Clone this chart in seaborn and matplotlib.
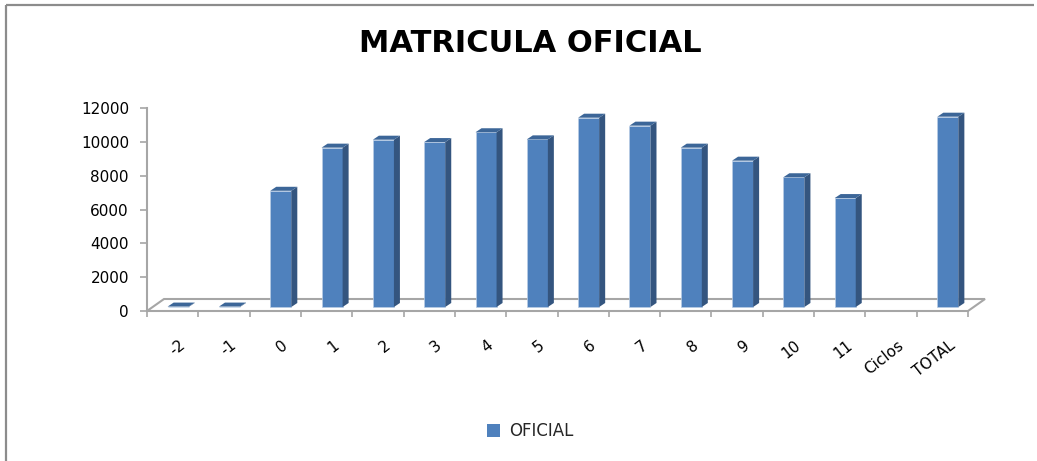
import numpy as np
import pandas as pd
import matplotlib
matplotlib.use('Agg')
import matplotlib.pyplot as plt
import seaborn as sns
from matplotlib.patches import Polygon, Patch
from matplotlib.lines import Line2D
import matplotlib.transforms as mtrans

# ---- data ----
categories = ['-2', '-1', '0', '1', '2', '3', '4', '5', '6', '7', '8', '9',
              '10', '11', 'Ciclos', 'TOTAL']
matricula = [25, 25, 6870, 9420, 9890, 9750, 10330, 9910, 11190, 10720,
             9420, 8650, 7670, 6440, np.nan, 11250]
series_name = 'OFICIAL'
title = 'MATRICULA OFICIAL'
y_ticks = [0, 2000, 4000, 6000, 8000, 10000, 12000]

# ---- style ----
sns.set_theme(style='white')
plt.rcParams['font.family'] = ['DejaVu Sans']

FRONT = '#4f81bd'
SIDE = '#34557f'
TOP = '#3c6698'
GRAY = '#a6a6a6'

W, H = 1037, 461
fig = plt.figure(figsize=(W / 100, H / 100), dpi=100)
ax_l, ax_r, ax_b, ax_t = 147, 968, 311, 108
ax = fig.add_axes([ax_l / W, 1 - ax_b / H, (ax_r - ax_l) / W, (ax_b - ax_t) / H])

df = pd.DataFrame({'cat': categories, 'val': matricula}).dropna()
sns.barplot(data=df, x='cat', y='val', order=categories, color=FRONT,
            saturation=1, width=0.41, errorbar=None, ax=ax, zorder=3)
ax.set_xlim(-0.5, len(categories) - 0.5)
ax.set_ylim(0, 12000)

# data units per pixel
ux = len(categories) / (ax_r - ax_l)
uy = 12000 / (ax_b - ax_t)

# floor (3D base)
fdx, fdy = 17 * ux, 12 * uy
x0f, x1f = -0.5, len(categories) - 0.5
floor = Polygon([(x0f, 0), (x1f, 0), (x1f + fdx, fdy), (x0f + fdx, fdy)],
                closed=True, fc='white', ec=GRAY, lw=1.5, zorder=1, clip_on=False)

bars = list(ax.patches)
ax.add_patch(floor)

# 3D bar faces
bdx, bdy = 6 * ux, 4 * uy
for p in bars:
    h = p.get_height()
    if not np.isfinite(h):
        continue
    xb = p.get_x() + 5.5 * ux
    w = p.get_width()
    yb = 4 * uy
    p.set_x(xb)
    p.set_y(yb)
    p.set_edgecolor('#b9cde5')
    p.set_linewidth(0.5)
    p.set_zorder(3)
    p.set_clip_on(False)
    x1 = xb + w
    side = Polygon([(x1, yb), (x1 + bdx, yb + bdy), (x1 + bdx, yb + h + bdy), (x1, yb + h)],
                   closed=True, fc=SIDE, ec='none', zorder=3, clip_on=False)
    top = Polygon([(xb, yb + h), (x1, yb + h), (x1 + bdx, yb + h + bdy), (xb + bdx, yb + h + bdy)],
                  closed=True, fc=TOP, ec='none', zorder=3, clip_on=False)
    ax.add_patch(side)
    ax.add_patch(top)

# spines
for s in ['top', 'right', 'bottom']:
    ax.spines[s].set_visible(False)
ax.spines['left'].set_color(GRAY)
ax.spines['left'].set_linewidth(1.5)

ax.set_xlabel('')
ax.set_ylabel('')
ax.set_yticks(y_ticks)
ax.set_yticklabels([str(v) for v in y_ticks])
ax.tick_params(axis='y', left=True, length=5, width=1.2, color=GRAY,
               direction='out', labelsize=11, pad=8, labelcolor='black')

ax.set_xticks(range(len(categories)))
ax.set_xticklabels(categories)
ax.set_xticks(np.arange(-0.5, len(categories), 1), minor=True)
ax.tick_params(axis='x', which='major', bottom=True, length=0, pad=19,
               labelsize=11, labelcolor='black')
ax.tick_params(axis='x', which='minor', bottom=True, length=4, width=1.2,
               color=GRAY, direction='out')
off = mtrans.ScaledTranslation(6 / 100, 0, fig.dpi_scale_trans)
for lab in ax.get_xticklabels():
    lab.set_rotation(38)
    lab.set_ha('right')
    lab.set_va('top')
    lab.set_rotation_mode('anchor')
    lab.set_transform(lab.get_transform() + off)

# title
fig.text(530 / W, 1 - 44 / H, title, ha='center', va='center',
         fontsize=22, fontweight='bold', color='black')

# legend
fig.legend(handles=[Patch(fc=FRONT, ec='none', label=series_name)],
           loc='center', bbox_to_anchor=(530 / W, 1 - 431 / H), frameon=False,
           fontsize=12, handlelength=0.8, handleheight=0.8, handletextpad=0.5)

# chart border (left and top only)
fig.add_artist(Line2D([6 / W, 6 / W], [0, 1 - 5 / H], color='#8c8c8c', lw=1.6,
                      solid_capstyle='butt'))
fig.add_artist(Line2D([6 / W, 1034 / W], [1 - 5 / H, 1 - 5 / H], color='#8c8c8c',
                      lw=1.6, solid_capstyle='butt'))

fig.savefig('out.png', dpi=100)
